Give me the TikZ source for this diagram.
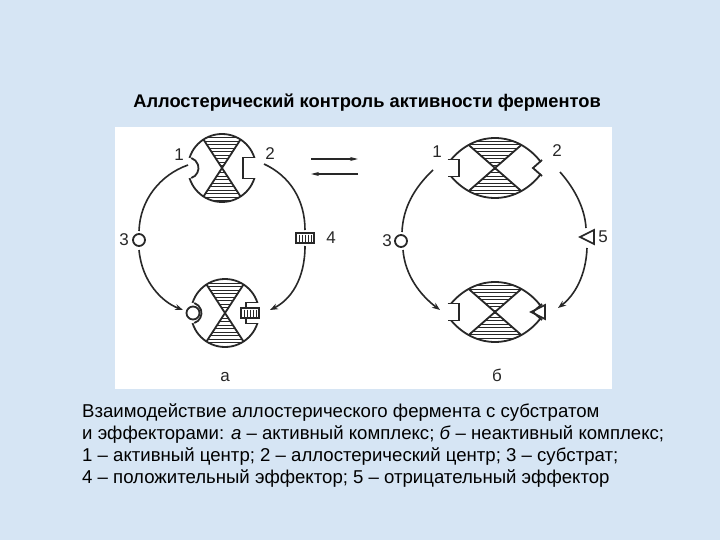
\documentclass[tikz,border=0pt]{standalone}
\usepackage{fontspec}
\setmainfont{Liberation Sans}
\usetikzlibrary{arrows.meta}
\definecolor{bg}{RGB}{214,229,244}
\definecolor{ink}{RGB}{40,40,40}
\tikzset{
 ln/.style={draw=ink,line width=1.8pt},
 cyc/.style={draw=ink,line width=1.6pt},
 cyca/.style={cyc,-{Stealth[length=8pt,width=6pt]}},
 lab/.style={font=\fontsize{17}{17}\selectfont,text=ink,inner sep=0pt},
 hatch/.pic={\foreach \k in {-44,-40.5,...,44} \draw[ink,line width=1pt] (-60,\k) -- (60,\k);},
 enzA/.pic={
  \begin{scope}
   \clip (0,0) circle (34);
   \begin{scope}
   \clip (-26,-40) -- (26,-40) -- (0,0) -- (-26,40) -- (26,40) -- (0,0) -- cycle;
   \pic{hatch};
   \end{scope}
   \draw[ln] (-26,-40) -- (26,40) (26,-40) -- (-26,40);
  \end{scope}
  \draw[ln] (0,0) circle (34);
  \fill[white] (-34,0) circle (10.3);
  \fill[white] (21.7,-10.3) rectangle (36,10.3);
  \draw[ln] (-34,0) ++(72:10.5) arc (72:-72:10.5);
  \draw[ln] (32.2,-10.5) -- (21,-10.5) -- (21,10.5) -- (32.2,10.5);
 },
 lensP/.style={insert path={(-50,0) .. controls (-25,-40) and (25,-40) .. (50,0) .. controls (25,40) and (-25,40) .. (-50,0) -- cycle}},
 enzB/.pic={
  \begin{scope}
   \clip[lensP];
   \begin{scope}
   \clip (-40,-35) -- (40,-35) -- (0,0) -- (-40,35) -- (40,35) -- (0,0) -- cycle;
   \pic{hatch};
   \end{scope}
   \draw[ln] (-40,-35) -- (40,35) (40,-35) -- (-40,35);
  \end{scope}
  \draw[ln,lensP];
  \fill[white] (-52,-8) rectangle (-37,8);
  \fill[white] (53,-12) -- (39,0) -- (53,12) -- cycle;
  \draw[ln] (-47.5,-8.5) -- (-36,-8.5) -- (-36,8.5) -- (-47.5,8.5);
  \draw[ln] (47,-8) -- (38,0) -- (47,8);
 },
 rectE/.pic={\draw[ln,fill=white,line width=1.5pt] (-9,-5) rectangle (9,5);
  \foreach \k in {-6,-3,...,6}\draw[ink,line width=1pt] (\k,-3.5) -- (\k,3.5);},
 triE/.pic={\draw[ln,line width=1.6pt] (-8,0) -- (6,-7) -- (6,7) -- cycle;}
}
\begin{document}
\begin{tikzpicture}[x=1pt,y=-1pt]
\fill[bg] (0,0) rectangle (720,540);
\useasboundingbox (0,0) rectangle (720,540);
\fill[white] (115,127) rectangle (612,389);
\node[font=\bfseries\fontsize{18.3}{19}\selectfont,text=black] (title) at (367,103) {Аллостерический контроль активности ферментов};
% left diagram
\pic at (222,168) {enzA};
\pic at (225,313) {enzA};
\draw[ln,line width=1.8pt] (193,313) circle (6.5);
\pic at (250,313) {rectE};
\node[lab] (l1) at (179,155) {1};
\node[lab] (l2) at (270,154) {2};
\node[lab] (l3) at (124,240) {3};
\node[lab] (l4) at (331,238) {4};
\node[lab] (la) at (225,377) {а};
\draw[ln,line width=1.8pt] (139,240) circle (6);
\pic at (305,238) {rectE};
\coordinate (a1) at (188,165); \coordinate (a2) at (264,164);
\draw[cyc] (a1) .. controls (160,175) and (140,200) .. (139,231);
\draw[cyca] (139,250) .. controls (142,282) and (162,302) .. (183,310);
\draw[cyc] (a2) .. controls (290,176) and (305,200) .. (305,230);
\draw[cyca] (305,246) .. controls (305,280) and (290,300) .. (270,310);
% arrows between
\coordinate (m1) at (311,159); \coordinate (m2) at (358,159);
\coordinate (m3) at (358,174); \coordinate (m4) at (311,174);
\draw[cyc,-{Stealth[length=8pt,width=4pt]},line width=1.3pt] (m1) -- (m2);
\draw[cyc,-{Stealth[length=8pt,width=4pt]},line width=1.3pt] (m3) -- (m4);
% right diagram
\pic at (495,168) {enzB};
\pic at (495,312) {enzB};
\pic at (539,312) {triE};
\node[lab] (r1) at (437,152) {1};
\node[lab] (r2) at (557,151) {2};
\node[lab] (r3) at (387,241) {3};
\node[lab] (r5) at (603,237) {5};
\node[lab] (rb) at (497,375) {б};
\draw[ln,line width=1.8pt] (401,241) circle (6);
\pic at (588,237) {triE};
\draw[cyc] (433,170) .. controls (414,188) and (403,208) .. (402,232);
\draw[cyca] (403,250) .. controls (405,275) and (420,295) .. (440,310);
\draw[cyc] (560,172) .. controls (576,190) and (585,210) .. (586,228);
\draw[cyca] (587,248) .. controls (586,275) and (575,295) .. (558,308);
% caption
\node[anchor=north west,align=left,inner sep=0pt,font=\fontsize{18.6}{22}\selectfont,text=black] (cap) at (82,403) {Взаимодействие аллостерического фермента с субстратом\\
и эффекторами: \textit{а} – активный комплекс; \textit{б} – неактивный комплекс;\\
1 – активный центр; 2 – аллостерический центр; 3 – субстрат;\\
4 – положительный эффектор; 5 – отрицательный эффектор};
\end{tikzpicture}
\end{document}
